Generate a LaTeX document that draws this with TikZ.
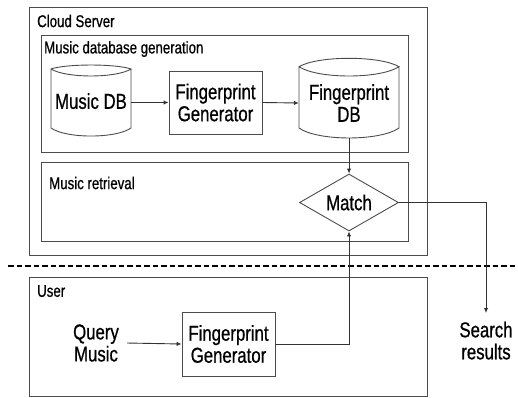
\documentclass[tikz,border=0pt]{standalone}
\usepackage{fontspec}
\setmainfont{Liberation Sans}[FakeStretch=0.78,FakeBold=0.7]
\usetikzlibrary{shapes.geometric,arrows.meta}
\tikzset{
  box/.style={draw=black!70, line width=0.9pt},
  ttl/.style={anchor=west, inner sep=0pt, font=\fontsize{17}{18}\selectfont},
  big/.style={font=\fontsize{21.5}{22}\selectfont, align=center},
  proc/.style={big, draw=black!70, line width=0.9pt, inner sep=0pt},
  conn/.style={draw=black!80, line width=0.9pt, -{Latex[length=5pt,width=4.5pt]}},
  sep/.style={draw=black, line width=2.6pt, dash pattern=on 5.5pt off 3pt},
}
\begin{document}
\begin{tikzpicture}[x=1pt,y=-1pt]
\useasboundingbox (0,0) rectangle (518,397);
% containers
\draw[box] (29,7) rectangle (427,255);
\node[ttl] (tcloud) at (37,21) {Cloud Server};
\draw[box] (41,35) rectangle (408,152);
\node[ttl] (tgen) at (44,49) {Music database generation};
\draw[box] (41,162) rectangle (408,241);
\node[ttl] (tret) at (49,183) {Music retrieval};
\draw[box] (29,277) rectangle (427,396);
\node[ttl] (tuser) at (37,291) {User};
% separator
\coordinate (sepL) at (8,266);
\coordinate (sepR) at (518,266);
\draw[sep] (sepL) -- (sepR);
% Music DB cylinder
\node[big, minimum width=80pt, minimum height=60pt, inner sep=0pt] (mdb) at (91,102.5) {\raisebox{3pt}{Music DB}};
\draw[box] (51,69) .. controls (66,63.7) and (116,63.7) .. (131,69)
  .. controls (116,78.3) and (66,78.3) .. (51,69) -- (51,128)
  .. controls (66,138.7) and (116,138.7) .. (131,128) -- (131,69);
% Fingerprint generator (top)
\node[proc, minimum width=93pt, minimum height=63pt] (fg1) at (215.5,102.5) {Fingerprint\\Generator};
% Fingerprint DB cylinder
\node[big, minimum width=100pt, minimum height=70pt, inner sep=0pt] (fpdb) at (349,103) {Fingerprint\\DB};
\draw[box] (299,66.7) .. controls (318,55.5) and (380,55.5) .. (399,66.7)
  .. controls (380,79.1) and (318,79.1) .. (299,66.7) -- (299,128)
  .. controls (318,141.3) and (380,141.3) .. (399,128) -- (399,66.7);
% Match
\node[proc, shape=diamond, aspect=1.74, minimum width=99pt, minimum height=57pt] (match) at (349,202.5) {Match};
% User side
\node[big, inner xsep=8pt, inner ysep=0pt] (qm) at (96,343) {Query\\Music};
\node[proc, minimum width=93pt, minimum height=64pt] (fg2) at (228.5,344) {Fingerprint\\Generator};
\node[big, inner xsep=0pt, inner ysep=8.5pt, anchor=north] (sr) at (486,313) {Search\\results};
% connectors
\draw[conn] (mdb.east) -- (fg1.west);
\draw[conn] (fg1.east) -- (fpdb.west);
\draw[conn] (fpdb.south) -- (match.north);
\draw[conn] (fg2.east) -| (match.south);
\draw[conn] (qm.east) -- (fg2.west);
\draw[conn] (match.east) -| (sr.north);
\end{tikzpicture}
\end{document}
